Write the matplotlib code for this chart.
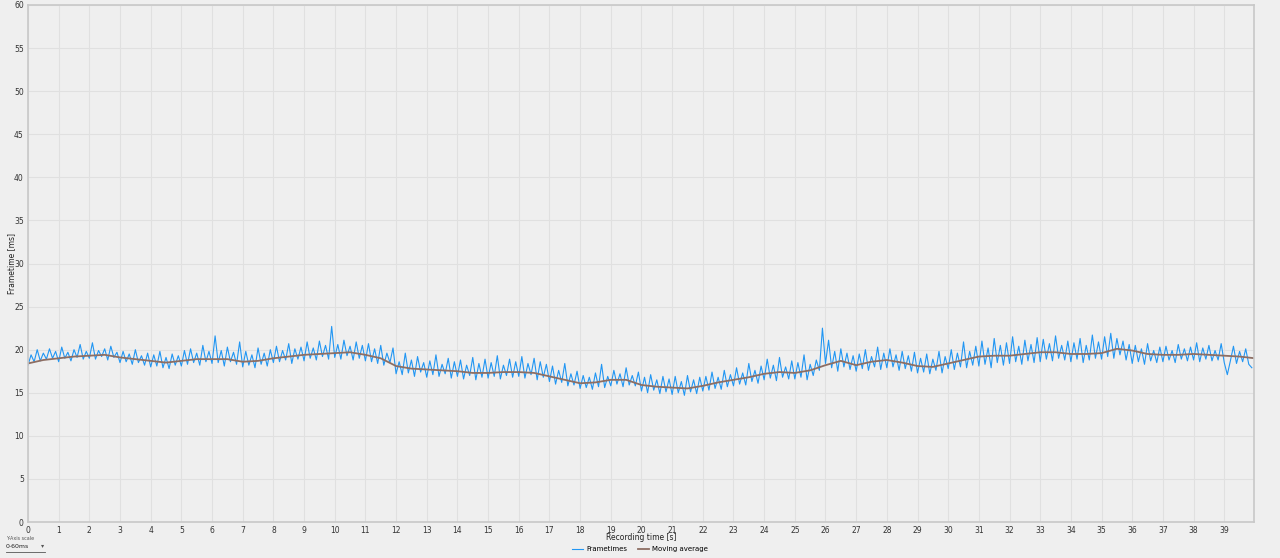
import numpy as np
import matplotlib.pyplot as plt

# Frametimes at 0.1 s steps (ms)
frametimes = [
    18.2, 19.4, 18.6, 20.0, 18.7, 19.6, 18.9, 20.1, 19.0, 19.8,
    18.6, 20.3, 19.0, 19.7, 18.7, 20.0, 19.1, 20.6, 18.9, 19.8,
    19.0, 20.8, 18.9, 19.9, 19.2, 20.1, 18.8, 20.4, 19.1, 19.7,
    18.5, 19.8, 18.6, 19.5, 18.3, 20.0, 18.5, 19.3, 18.2, 19.6,
    18.0, 19.4, 18.1, 19.8, 17.9, 19.1, 17.8, 19.5, 18.2, 19.3,
    18.1, 19.9, 18.3, 20.1, 18.5, 19.6, 18.2, 20.5, 18.6, 19.8,
    18.4, 21.6, 18.5, 19.9, 18.1, 20.3, 18.6, 19.7, 18.3, 20.9,
    18.0, 19.8, 18.2, 19.4, 17.9, 20.2, 18.3, 19.6, 18.1, 20.0,
    18.5, 20.4, 18.6, 19.9, 18.8, 20.7, 18.4, 20.1, 18.9, 20.3,
    18.7, 20.9, 19.0, 20.2, 18.8, 21.0, 19.2, 20.5, 18.9, 22.7,
    19.1, 20.6, 18.9, 21.1, 19.3, 20.4, 18.8, 20.9, 19.0, 20.5,
    18.7, 20.7, 18.6, 20.1, 18.4, 20.5, 18.2, 19.6, 18.5, 20.2,
    17.2, 18.6, 17.1, 19.6, 17.3, 18.8, 16.9, 19.2, 17.4, 18.5,
    16.8, 18.7, 17.1, 19.4, 16.9, 18.3, 17.2, 19.0, 16.7, 18.6,
    16.9, 18.8, 16.6, 18.2, 17.0, 19.1, 16.5, 18.4, 16.8, 18.9,
    16.7, 18.5, 16.9, 19.3, 16.6, 18.2, 17.0, 18.9, 16.8, 18.6,
    16.9, 19.2, 16.7, 18.4, 17.1, 19.0, 16.5, 18.6, 16.8, 18.3,
    16.3, 18.1, 16.0, 17.6, 16.2, 18.4, 15.8, 17.2, 15.9, 17.5,
    15.5, 17.0, 15.6, 16.8, 15.4, 17.3, 15.7, 18.3, 15.6, 16.9,
    15.8, 17.6, 16.0, 17.2, 15.7, 17.9, 15.9, 17.0, 15.8, 17.4,
    15.2, 16.8, 15.0, 17.1, 15.3, 16.5, 14.9, 16.9, 15.1, 16.6,
    14.8, 16.9, 15.0, 16.3, 14.7, 17.0, 15.1, 16.5, 14.9, 16.8,
    15.2, 16.9, 15.3, 17.4, 15.5, 16.8, 15.4, 17.6, 15.7, 17.1,
    15.8, 17.9, 16.0, 17.3, 15.9, 18.4, 16.3, 17.6, 16.1, 18.1,
    16.5, 18.9, 16.7, 18.2, 16.4, 19.1, 16.8, 18.0, 16.6, 18.7,
    16.6, 18.5, 16.8, 19.4, 16.5, 18.3, 17.0, 18.8, 17.6, 22.5,
    18.4, 21.1, 17.9, 19.8, 17.5, 20.1, 18.0, 19.6, 17.7, 19.3,
    17.5, 19.5, 17.8, 20.0, 17.6, 19.2, 18.0, 20.3, 17.7, 19.6,
    17.9, 20.1, 18.0, 19.4, 17.6, 19.8, 17.8, 19.3, 17.5, 19.7,
    17.3, 19.0, 17.4, 19.5, 17.2, 18.9, 17.6, 19.8, 17.3, 19.2,
    17.8, 20.0, 17.7, 19.6, 18.0, 20.9, 17.9, 19.8, 18.2, 20.4,
    18.1, 21.0, 18.3, 20.2, 17.9, 21.3, 18.5, 20.5, 18.2, 20.8,
    18.4, 21.5, 18.6, 20.4, 18.3, 21.1, 18.7, 20.6, 18.5, 21.4,
    18.6, 21.2, 18.9, 20.7, 18.7, 21.6, 19.0, 20.5, 18.8, 21.0,
    18.6, 20.8, 18.9, 21.3, 18.5, 20.5, 18.8, 21.7, 19.0, 20.9,
    18.9, 21.5, 19.2, 21.9, 19.0, 21.3, 19.4, 21.0, 18.8, 20.6,
    18.4, 20.5, 18.6, 20.1, 18.3, 20.7, 18.7, 19.9, 18.5, 20.3,
    18.6, 20.4, 18.8, 19.9, 18.5, 20.6, 18.9, 20.1, 18.7, 20.3,
    18.8, 20.8, 18.6, 20.2, 18.9, 20.5, 18.7, 19.9, 18.8, 20.7,
    18.5, 17.1, 18.7, 20.4, 18.4, 19.8, 18.6, 20.1, 18.3, 17.9,
]
frame_step = 0.1

# Moving average at 0.5 s steps (ms)
moving_avg = [
    18.4, 18.8, 19.0, 19.2, 19.3, 19.4, 19.1, 18.9, 18.7, 18.5,
    18.7, 18.9, 18.9, 18.9, 18.6, 18.7, 19.0, 19.2, 19.4, 19.5,
    19.6, 19.7, 19.4, 19.0, 18.1, 17.8, 17.7, 17.6, 17.5, 17.3,
    17.3, 17.4, 17.4, 17.3, 16.9, 16.5, 16.1, 16.2, 16.5, 16.5,
    15.9, 15.7, 15.6, 15.5, 15.8, 16.2, 16.5, 16.8, 17.2, 17.4,
    17.3, 17.6, 18.2, 18.7, 18.2, 18.6, 18.8, 18.5, 18.1, 18.0,
    18.4, 18.8, 19.2, 19.3, 19.3, 19.5, 19.7, 19.7, 19.5, 19.5,
    19.6, 20.1, 19.9, 19.5, 19.4, 19.4, 19.5, 19.4, 19.3, 19.2,
    19.0,
]
avg_step = 0.5

x_ticks = list(range(0, 40))
y_ticks = list(range(0, 61, 5))

BG = '#efefef'
FT_COLOR = '#2196f3'
MA_COLOR = '#8d6e63'

fig = plt.figure(figsize=(12.8, 5.58), dpi=100, facecolor=BG)
ax = fig.add_axes([28 / 1280, 1 - 522 / 558, (1254 - 28) / 1280, (522 - 5) / 558])
ax.set_facecolor(BG)

t_ft = np.arange(len(frametimes)) * frame_step
t_ma = np.arange(len(moving_avg)) * avg_step
ax.plot(t_ft, frametimes, color=FT_COLOR, lw=0.8, label='Frametimes')
ax.plot(t_ma, moving_avg, color=MA_COLOR, lw=1.3, label='Moving average')

ax.set_xlim(0, 39.97)
ax.set_ylim(0, 60)
ax.set_xticks(x_ticks)
ax.set_yticks(y_ticks)
ax.tick_params(length=0, labelsize=5.5, colors='#333333', pad=3)
ax.grid(True, color='#e0e0e0', lw=0.8)
ax.set_axisbelow(True)
for s in ax.spines.values():
    s.set_color('#c8c8c8')
    s.set_linewidth(1.2)

ax.set_xlabel('Recording time [s]', fontsize=5.5, color='#222222')
ax.set_ylabel('Frametime [ms]', fontsize=5.5, color='#222222')
ax.xaxis.set_label_coords(0.5, (522 - 538) / 517)
ax.yaxis.set_label_coords((12 - 28) / 1226, 0.5)
ax.xaxis.label.set_va('center')
ax.yaxis.label.set_va('center')

fig.legend(loc='center', bbox_to_anchor=(0.5, 1 - 549 / 558), ncol=2, frameon=False,
           fontsize=5, handlelength=1.6, handletextpad=0.5, columnspacing=1.5)

# y-axis scale selector, bottom left
fig.text(6 / 1280, 1 - 538 / 558, 'Y-Axis scale', fontsize=3.5, color='#555555', va='center')
fig.text(6 / 1280, 1 - 546 / 558, '0-60ms', fontsize=4.5, color='#222222', va='center')
fig.text(43 / 1280, 1 - 546 / 558, '▾', fontsize=4.5, color='#555555', va='center', ha='center')
fig.add_artist(plt.Line2D([6 / 1280, 45 / 1280], [1 - 552 / 558] * 2, color='#555555', lw=0.6))

fig.savefig('out.png', dpi=100, facecolor=BG)
